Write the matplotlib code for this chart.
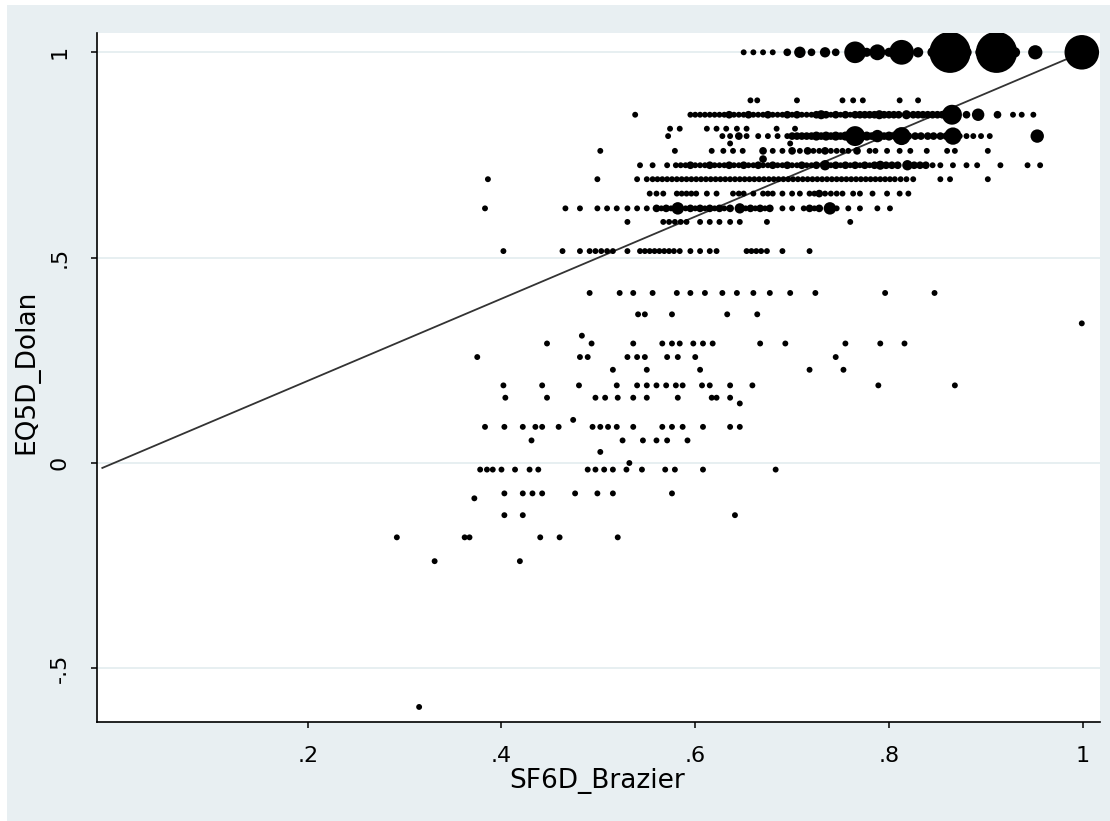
import matplotlib
matplotlib.use("Agg")
import matplotlib.pyplot as plt
from matplotlib.patches import Rectangle

# EQ5D_Dolan levels (rows) and the SF6D_Brazier values seen on each row,
# with the number of respondents per point (marker area ~ count)
x_1000 = [0.650, 0.660, 0.670, 0.680, 0.695, 0.708, 0.720, 0.734, 0.745, 0.765, 0.777,
          0.788, 0.800, 0.813, 0.830, 0.845, 0.863, 0.880, 0.895, 0.911, 0.930, 0.951,
          0.999]
n_1000 = [1, 1, 1, 1, 2, 5, 2, 4, 2, 19, 3, 10, 3, 25, 4, 4, 70, 4, 5, 70, 4, 8, 49]

x_883 = [0.657, 0.664, 0.705, 0.752, 0.763, 0.773, 0.811, 0.830]
n_883 = [1, 1, 1, 1, 1, 1, 1, 1]

x_848 = [0.538, 0.595, 0.600, 0.605, 0.610, 0.615, 0.620, 0.625, 0.630, 0.635, 0.640,
         0.645, 0.650, 0.655, 0.660, 0.665, 0.670, 0.675, 0.680, 0.685, 0.690, 0.695,
         0.700, 0.705, 0.710, 0.715, 0.720, 0.725, 0.730, 0.735, 0.740, 0.745, 0.750,
         0.755, 0.760, 0.765, 0.770, 0.775, 0.780, 0.785, 0.790, 0.795, 0.800, 0.805,
         0.810, 0.818, 0.825, 0.830, 0.835, 0.840, 0.845, 0.850, 0.855, 0.865, 0.880,
         0.892, 0.912, 0.928, 0.937, 0.949]
n_848 = [1, 1, 1, 1, 1, 1, 1, 1, 1, 2, 1, 1, 1, 2, 1, 1, 1, 2, 1, 1, 1, 2, 1, 2, 1,
         1, 1, 2, 3, 2, 1, 2, 1, 2, 1, 2, 2, 2, 2, 2, 3, 2, 2, 2, 2, 3, 2, 2, 2, 2,
         2, 2, 2, 16, 2, 6, 2, 1, 1, 1]

x_814 = [0.574, 0.584, 0.612, 0.622, 0.632, 0.643, 0.653, 0.684, 0.703]
n_814 = [1, 1, 1, 1, 1, 1, 1, 1, 1]

x_796 = [0.572, 0.628, 0.636, 0.645, 0.653, 0.665, 0.675, 0.685, 0.695, 0.700, 0.705,
         0.710, 0.715, 0.720, 0.725, 0.730, 0.735, 0.740, 0.745, 0.750, 0.755, 0.765,
         0.772, 0.777, 0.782, 0.788, 0.795, 0.800, 0.806, 0.813, 0.820, 0.827, 0.833,
         0.840, 0.846, 0.853, 0.859, 0.866, 0.873, 0.880, 0.887, 0.895, 0.904, 0.953]
n_796 = [1, 1, 1, 2, 1, 1, 1, 1, 1, 2, 2, 2, 2, 2, 3, 2, 3, 2, 3, 2, 3, 16, 2, 3, 2,
         6, 2, 3, 2, 13, 2, 2, 2, 2, 2, 2, 2, 12, 1, 1, 1, 1, 1, 7]

x_778 = [0.636, 0.698]
n_778 = [1, 1]

x_760 = [0.502, 0.579, 0.617, 0.629, 0.639, 0.649, 0.670, 0.680, 0.690, 0.700, 0.708,
         0.716, 0.722, 0.728, 0.734, 0.740, 0.746, 0.752, 0.758, 0.767, 0.780, 0.786,
         0.798, 0.811, 0.822, 0.839, 0.860, 0.868, 0.902]
n_760 = [1, 1, 1, 1, 1, 1, 2, 1, 1, 2, 1, 2, 1, 1, 2, 1, 1, 1, 1, 2, 1, 1, 1, 1, 1,
         1, 1, 1, 1]

x_740 = [0.670]
n_740 = [2]

x_725 = [0.543, 0.556, 0.571, 0.580, 0.585, 0.590, 0.595, 0.600, 0.605, 0.610, 0.615,
         0.620, 0.625, 0.630, 0.635, 0.640, 0.645, 0.650, 0.655, 0.660, 0.665, 0.670,
         0.675, 0.680, 0.685, 0.690, 0.695, 0.700, 0.705, 0.710, 0.715, 0.720, 0.725,
         0.734, 0.740, 0.745, 0.750, 0.755, 0.760, 0.765, 0.770, 0.775, 0.780, 0.785,
         0.791, 0.797, 0.803, 0.809, 0.819, 0.826, 0.832, 0.838, 0.845, 0.853, 0.866,
         0.880, 0.891, 0.915, 0.943, 0.956]
n_725 = [1, 1, 1, 1, 1, 1, 2, 1, 1, 1, 2, 1, 1, 1, 2, 1, 1, 2, 1, 1, 2, 1, 1, 2, 1,
         1, 2, 1, 1, 2, 1, 1, 2, 4, 1, 2, 1, 2, 1, 2, 1, 2, 1, 2, 3, 2, 2, 2, 4, 2,
         2, 2, 1, 1, 1, 1, 1, 1, 1, 1]

x_691 = [0.386, 0.499, 0.540, 0.550, 0.556, 0.561, 0.566, 0.571, 0.576, 0.581, 0.586,
         0.591, 0.596, 0.601, 0.606, 0.611, 0.616, 0.621, 0.626, 0.631, 0.636, 0.641,
         0.646, 0.651, 0.656, 0.661, 0.666, 0.671, 0.676, 0.681, 0.686, 0.691, 0.696,
         0.701, 0.706, 0.711, 0.716, 0.721, 0.726, 0.731, 0.736, 0.741, 0.746, 0.751,
         0.756, 0.761, 0.766, 0.771, 0.776, 0.781, 0.786, 0.791, 0.796, 0.801, 0.806,
         0.812, 0.818, 0.825, 0.853, 0.863, 0.902]
n_691 = [1, 1, 1, 1, 1, 1, 1, 1, 1, 1, 1, 1, 1, 1, 1, 1, 1, 1, 1, 1, 1, 1, 1, 1, 1,
         1, 1, 1, 1, 1, 1, 1, 1, 1, 1, 1, 1, 1, 1, 1, 1, 1, 1, 1, 1, 1, 1, 1, 1, 1,
         1, 1, 1, 1, 1, 1, 1, 1, 1, 1, 1]

x_656 = [0.553, 0.560, 0.567, 0.581, 0.586, 0.591, 0.596, 0.601, 0.612, 0.622, 0.639,
         0.645, 0.650, 0.660, 0.670, 0.675, 0.680, 0.690, 0.700, 0.708, 0.718, 0.723,
         0.728, 0.734, 0.740, 0.746, 0.752, 0.763, 0.770, 0.783, 0.798, 0.811, 0.820]
n_656 = [1, 1, 1, 1, 1, 1, 1, 1, 1, 1, 1, 1, 1, 1, 1, 1, 1, 1, 1, 1, 1, 1, 2, 1, 1,
         1, 1, 1, 1, 1, 1, 1, 1]

x_620 = [0.383, 0.466, 0.481, 0.499, 0.509, 0.519, 0.530, 0.540, 0.550, 0.560, 0.565,
         0.570, 0.575, 0.582, 0.590, 0.595, 0.600, 0.605, 0.610, 0.615, 0.620, 0.625,
         0.630, 0.636, 0.646, 0.652, 0.657, 0.662, 0.667, 0.672, 0.677, 0.690, 0.700,
         0.712, 0.718, 0.723, 0.728, 0.739, 0.746, 0.758, 0.770, 0.788, 0.801]
n_620 = [1, 1, 1, 1, 1, 1, 1, 1, 1, 2, 1, 2, 1, 6, 1, 2, 1, 2, 1, 2, 1, 2, 1, 2, 4,
         1, 2, 1, 2, 1, 2, 1, 1, 1, 2, 1, 2, 6, 1, 1, 1, 1, 1]

x_587 = [0.530, 0.567, 0.573, 0.579, 0.585, 0.591, 0.605, 0.615, 0.625, 0.636, 0.646,
         0.674, 0.760]
n_587 = [1, 1, 1, 1, 1, 1, 1, 1, 1, 1, 1, 1, 1]

x_516 = [0.402, 0.463, 0.481, 0.491, 0.497, 0.503, 0.509, 0.515, 0.530, 0.543, 0.548,
         0.553, 0.558, 0.563, 0.568, 0.573, 0.578, 0.584, 0.595, 0.605, 0.615, 0.622,
         0.653, 0.658, 0.663, 0.668, 0.674, 0.690, 0.718]
n_516 = [1, 1, 1, 1, 1, 1, 1, 1, 1, 1, 1, 1, 1, 1, 1, 1, 1, 1, 1, 1, 1, 1, 1, 1, 1,
         1, 1, 1, 1]

x_414 = [0.491, 0.522, 0.536, 0.556, 0.581, 0.595, 0.610, 0.628, 0.643, 0.660, 0.677,
         0.698, 0.724, 0.796, 0.847]
x_362 = [0.541, 0.548, 0.576, 0.633, 0.664]
x_310 = [0.483]
x_291 = [0.447, 0.493, 0.536, 0.566, 0.576, 0.584, 0.598, 0.608, 0.618, 0.667, 0.693,
         0.755, 0.791, 0.816]
x_258 = [0.375, 0.481, 0.489, 0.530, 0.540, 0.548, 0.571, 0.582, 0.600, 0.745]
x_227 = [0.515, 0.550, 0.605, 0.718, 0.753]
x_189 = [0.402, 0.442, 0.480, 0.519, 0.540, 0.550, 0.560, 0.570, 0.580, 0.587, 0.607,
         0.615, 0.636, 0.659, 0.789, 0.868]
x_159 = [0.404, 0.447, 0.497, 0.507, 0.520, 0.536, 0.550, 0.582, 0.617, 0.622, 0.636]
x_145 = [0.646]
x_105 = [0.474]
x_088 = [0.383, 0.403, 0.422, 0.435, 0.442, 0.459, 0.494, 0.502, 0.510, 0.519, 0.536,
         0.566, 0.576, 0.587, 0.608, 0.636, 0.646]
x_055 = [0.431, 0.525, 0.546, 0.560, 0.571, 0.592]
x_027 = [0.502]
x_000 = [0.532]
x_m016 = [0.378, 0.385, 0.391, 0.400, 0.414, 0.429, 0.438, 0.489, 0.497, 0.506, 0.515,
          0.529, 0.545, 0.569, 0.579, 0.608, 0.683]
x_m074 = [0.403, 0.422, 0.432, 0.442, 0.476, 0.499, 0.515, 0.576]
x_m086 = [0.372]
x_m127 = [0.403, 0.422, 0.641]
x_m181 = [0.292, 0.362, 0.367, 0.440, 0.460, 0.520]
x_m239 = [0.331, 0.419]
x_m594 = [0.315]
x_340 = [0.999]

rows = [
    (1.000, x_1000, n_1000), (0.883, x_883, n_883), (0.848, x_848, n_848),
    (0.814, x_814, n_814), (0.796, x_796, n_796), (0.778, x_778, n_778),
    (0.760, x_760, n_760), (0.740, x_740, n_740), (0.725, x_725, n_725),
    (0.691, x_691, n_691), (0.656, x_656, n_656), (0.620, x_620, n_620),
    (0.587, x_587, n_587), (0.516, x_516, n_516),
]
single_rows = [
    (0.414, x_414), (0.362, x_362), (0.340, x_340), (0.310, x_310), (0.291, x_291),
    (0.258, x_258), (0.227, x_227), (0.189, x_189), (0.159, x_159), (0.145, x_145),
    (0.105, x_105), (0.088, x_088), (0.055, x_055), (0.027, x_027), (0.000, x_000),
    (-0.016, x_m016), (-0.074, x_m074), (-0.086, x_m086), (-0.127, x_m127),
    (-0.181, x_m181), (-0.239, x_m239), (-0.594, x_m594),
]

xs, ys, ns = [], [], []
for y, xv, nv in rows:
    xs += xv
    ys += [y] * len(xv)
    ns += nv
for y, xv in single_rows:
    xs += xv
    ys += [y] * len(xv)
    ns += [1] * len(xv)

bg = "#e8eff2"
fig = plt.figure(figsize=(11.1, 8.21), dpi=100)
fig.patch.set_facecolor("white")
fig.patches.append(Rectangle((7 / 1110, 0), 1, 1 - 5 / 821, transform=fig.transFigure,
                             facecolor=bg, edgecolor="none", zorder=-10))

ax = fig.add_axes([97 / 1110, 1 - 722 / 821, (1100 - 97) / 1110, (722 - 33) / 821])
ax.set_facecolor("white")

# marker area grows with the count, as in a frequency-weighted scatter
sizes = [18 + 12.5 * (n - 1) for n in ns]
ax.scatter(xs, ys, s=sizes, c="black", marker="o", linewidths=0, zorder=3)
ax.plot([-0.012, 1.0], [-0.012, 1.0], color="#333333", lw=1.3, zorder=2)

ax.set_xlim(-0.0175, 1.0178)
ax.set_ylim(-0.6306, 1.047)

ax.set_xticks([0.2, 0.4, 0.6, 0.8, 1.0])
ax.set_xticklabels([".2", ".4", ".6", ".8", "1"])
ax.set_yticks([-0.5, 0, 0.5, 1.0])
ax.set_yticklabels(["-.5", "0", ".5", "1"], rotation=90, va="center")
ax.tick_params(direction="out", length=4.5, width=1.1, labelsize=16, colors="black")
ax.tick_params(axis="x", pad=13)
ax.tick_params(axis="y", pad=15)
ax.grid(axis="y", color="#e3ecef", lw=1.2, zorder=0)
ax.set_axisbelow(True)

for side in ["top", "right"]:
    ax.spines[side].set_visible(False)
for side in ["left", "bottom"]:
    ax.spines[side].set_linewidth(1.2)

ax.set_xlabel("SF6D_Brazier", fontsize=19, va="center")
ax.xaxis.set_label_coords(0.4985, -0.0856)
ax.set_ylabel("EQ5D_Dolan", fontsize=19, va="center")
ax.yaxis.set_label_coords(-0.0708, 0.508)

fig.savefig("out.png", dpi=100, facecolor=fig.get_facecolor())
